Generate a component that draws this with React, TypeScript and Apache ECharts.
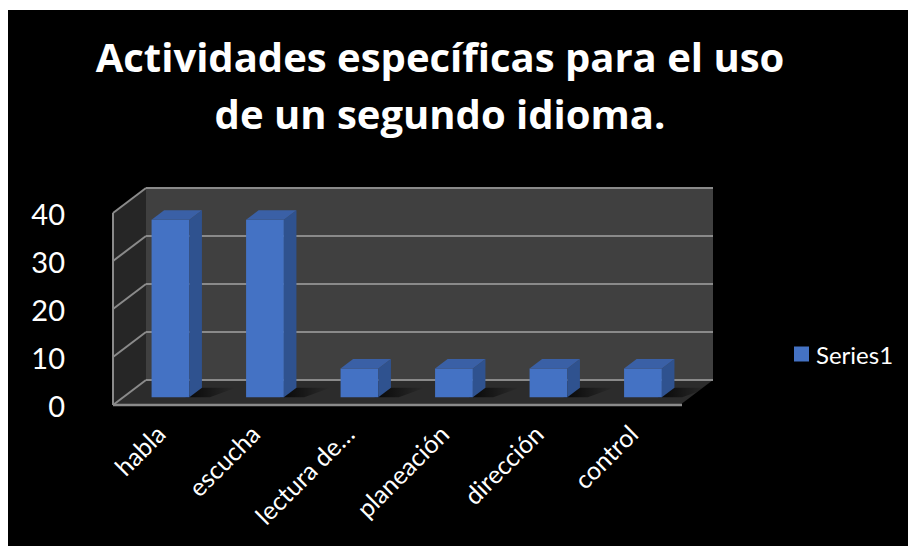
import React, { useEffect, useRef } from 'react';
import * as echarts from 'echarts';

const titleLines = ['Actividades específicas para el uso', 'de un segundo idioma.'];
const categories = ['habla', 'escucha', 'lectura de…', 'planeación', 'dirección', 'control'];
const values = [37, 37, 6, 6, 6, 6];
const seriesName = 'Series1';
const yMin = 0;
const yMax = 40;
const yStep = 10;
const yTicks = [0, 10, 20, 30, 40];

const DEPTH_X = 33;
const DEPTH_Y = -25;
const BAR_FRAC = 0.4;
const BAR_D0 = 0.31;
const BAR_D1 = 0.69;
const FONT = 'Lato, "Open Sans", sans-serif';
const TITLE_FONT = '"Open Sans", Lato, sans-serif';
const GRID_COLOR = '#8a8a8a';

export default function App() {
  const ref = useRef<HTMLDivElement>(null);
  useEffect(() => {
    const chart = echarts.init(ref.current as HTMLDivElement, null, { renderer: 'svg' });
    const dx = DEPTH_X;
    const dy = DEPTH_Y;

    const wallItem = (params: any, api: any) => {
      const cs = params.coordSys;
      const x0 = cs.x;
      const x1 = cs.x + cs.width;
      const yb = api.coord([0, yMin])[1];
      const yt = api.coord([0, yMax])[1];
      const children: any[] = [];
      children.push({ type: 'polygon', shape: { points: [[x0 + dx, yt + dy], [x1 + dx, yt + dy], [x1 + dx, yb + dy], [x0 + dx, yb + dy]] }, style: { fill: '#404040' } });
      children.push({ type: 'polygon', shape: { points: [[x0, yt], [x0 + dx, yt + dy], [x0 + dx, yb + dy], [x0, yb]] }, style: { fill: '#262626' } });
      children.push({ type: 'polygon', shape: { points: [[x0, yb], [x0 + dx, yb + dy], [x1 + dx, yb + dy], [x1, yb]] }, style: { fill: '#2c2c2c' } });
      yTicks.forEach((v) => {
        const y = api.coord([0, v])[1];
        children.push({ type: 'line', shape: { x1: x0, y1: y, x2: x0 + dx, y2: y + dy }, style: { stroke: GRID_COLOR, lineWidth: 2 } });
        children.push({ type: 'line', shape: { x1: x0 + dx, y1: y + dy, x2: x1 + dx, y2: y + dy }, style: { stroke: GRID_COLOR, lineWidth: 2 } });
      });
      children.push({ type: 'line', shape: { x1: x0, y1: yt, x2: x0, y2: yb }, style: { stroke: GRID_COLOR, lineWidth: 2 } });
      children.push({ type: 'line', shape: { x1: x0, y1: yb, x2: x1 + 2, y2: yb }, style: { stroke: GRID_COLOR, lineWidth: 2.5 } });
      return { type: 'group', children };
    };

    const barItem = (params: any, api: any) => {
      const i = api.value(0);
      const v = api.value(1);
      const top = api.coord([i, v]);
      const base = api.coord([i, 0]);
      const band = api.size([1, 0])[0];
      const w = band * BAR_FRAC;
      const fx = top[0] - w / 2 + dx * BAR_D0;
      const fyt = top[1] + dy * BAR_D0;
      const fyb = base[1] + dy * BAR_D0;
      const ddx = dx * (BAR_D1 - BAR_D0);
      const ddy = dy * (BAR_D1 - BAR_D0);
      const S = 34;
      return {
        type: 'group',
        children: [
          {
            type: 'polygon',
            shape: { points: [[fx + w - 4, fyb], [fx + w + ddx, fyb + ddy], [fx + w + ddx + S, fyb + ddy], [fx + w + S * 0.6, fyb]] },
            style: {
              fill: new echarts.graphic.LinearGradient(0, 0, 1, 0, [
                { offset: 0, color: 'rgba(0,0,0,0.85)' },
                { offset: 1, color: 'rgba(0,0,0,0)' },
              ]),
            },
          },
          { type: 'polygon', shape: { points: [[fx, fyt], [fx + w, fyt], [fx + w, fyb], [fx, fyb]] }, style: { fill: '#4472C4' } },
          { type: 'polygon', shape: { points: [[fx + w, fyt], [fx + w + ddx, fyt + ddy], [fx + w + ddx, fyb + ddy], [fx + w, fyb]] }, style: { fill: '#2F528F' } },
          { type: 'polygon', shape: { points: [[fx, fyt], [fx + ddx, fyt + ddy], [fx + w + ddx, fyt + ddy], [fx + w, fyt]] }, style: { fill: '#3A60A6' } },
        ],
      };
    };

    chart.setOption({
      animation: false,
      backgroundColor: '#000000',
      title: {
        text: titleLines.join('\n'),
        left: 432,
        top: 18,
        textAlign: 'center',
        padding: 0,
        textStyle: { color: '#ffffff', fontFamily: TITLE_FONT, fontWeight: 'bold', fontSize: 40, lineHeight: 57 },
      },
      legend: {
        data: [seriesName],
        left: 786,
        top: 332,
        padding: 0,
        icon: 'rect',
        itemWidth: 15,
        itemHeight: 15,
        textStyle: { color: '#ffffff', fontFamily: FONT, fontSize: 24, lineHeight: 16, padding: [0, 0, 0, 2] },
      },
      grid: { left: 105, top: 203, width: 567, height: 192 },
      xAxis: {
        type: 'category',
        data: categories,
        axisLine: { show: false },
        axisTick: { show: false },
        splitLine: { show: false },
        axisLabel: { color: '#ffffff', fontFamily: FONT, fontSize: 25, rotate: 45, margin: 24, interval: 0 },
      },
      yAxis: {
        type: 'value',
        min: yMin,
        max: yMax,
        interval: yStep,
        axisLine: { show: false },
        axisTick: { show: false },
        splitLine: { show: false },
        axisLabel: { color: '#ffffff', fontFamily: FONT, fontSize: 29, margin: 48 },
      },
      series: [
        {
          type: 'custom',
          name: 'walls',
          renderItem: wallItem,
          data: [[0, 0]],
          encode: { x: 0, y: 1 },
          z: 1,
          silent: true,
        },
        {
          type: 'custom',
          name: seriesName,
          renderItem: barItem,
          data: values.map((v, i) => [i, v]),
          encode: { x: 0, y: 1 },
          itemStyle: { color: '#4472C4' },
          z: 2,
        },
      ],
    });
    return () => chart.dispose();
  }, []);

  return (
    <div
      ref={ref}
      style={{ position: 'absolute', left: 8, top: 10, width: 900, height: 536, background: '#000' }}
    />
  );
}
